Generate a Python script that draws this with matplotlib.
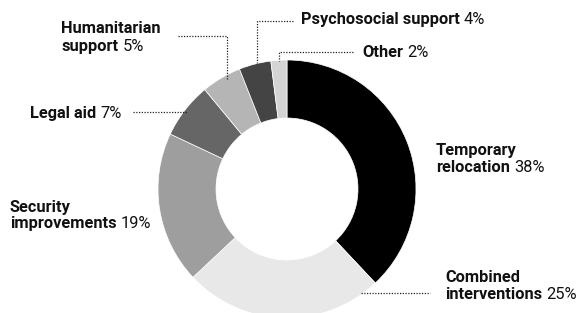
import matplotlib.pyplot as plt

# data
labels = ["Temporary relocation", "Combined interventions", "Security improvements",
          "Legal aid", "Humanitarian support", "Psychosocial support", "Other"]
values = [38, 25, 19, 7, 5, 4, 2]
colors = ["#000000", "#e8e8e8", "#9e9e9e", "#666666", "#b5b5b5", "#444444", "#d4d4d4"]

W, H = 581, 313
plt.rcParams['font.family'] = ['Roboto', 'DejaVu Sans']

fig = plt.figure(figsize=(W / 100, H / 100), dpi=100)
ax = fig.add_axes([0, 0, 1, 1])

# donut, drawn in pixel space (y flipped)
cx, cy, r = 287, 189, 129
ax.pie(values, colors=colors, startangle=90, counterclock=False,
       radius=r, center=(cx, H - cy),
       wedgeprops=dict(width=58, edgecolor='white', linewidth=0.5))
ax.set_xlim(0, W)
ax.set_ylim(0, H)
ax.set_aspect('equal')
ax.axis('off')

FS = 11.8


def label(x, lines, pct, baselines):
    # lines: bold text per line; pct goes after the last line in regular weight
    last = None
    for txt, yb in zip(lines, baselines):
        last = ax.text(x, H - yb, txt, fontsize=FS, fontweight='bold',
                       ha='left', va='baseline', color='#111111')
    ax.annotate(pct, xy=(1, 0), xycoords=last, xytext=(3, 0),
                textcoords='offset points', fontsize=FS, ha='left',
                va='bottom', color='#111111')


# label positions (pixels: left x, baselines)
label(436, ["Temporary", "relocation"], "38%", [155, 171.7])
label(445, ["Combined", "interventions"], "25%", [281.7, 299.3])
label(10, ["Security", "improvements"], "19%", [211.7, 228.3])
label(30, ["Legal aid"], "7%", [117.7])
label(61, ["Humanitarian", "support"], "5%", [32.7, 51.3])
label(301, ["Psychosocial support"], "4%", [24])
label(362, ["Other"], "2%", [57.3])

# dotted leader lines
leaders = [
    [(361, 293.3), (430, 293.3)],
    [(133, 112.3), (187, 112.3)],
    [(178, 35.7), (227, 35.7), (227, 79)],
    [(293, 20.5), (257, 20.5), (257, 62.5)],
    [(353, 51.7), (279, 51.7), (279, 61)],
]
for pts in leaders:
    xs = [p[0] for p in pts]
    ys = [H - p[1] for p in pts]
    ax.plot(xs, ys, color='#222222', lw=0.9, linestyle=(0, (1, 1.2)))

fig.savefig("out.png", dpi=100)
